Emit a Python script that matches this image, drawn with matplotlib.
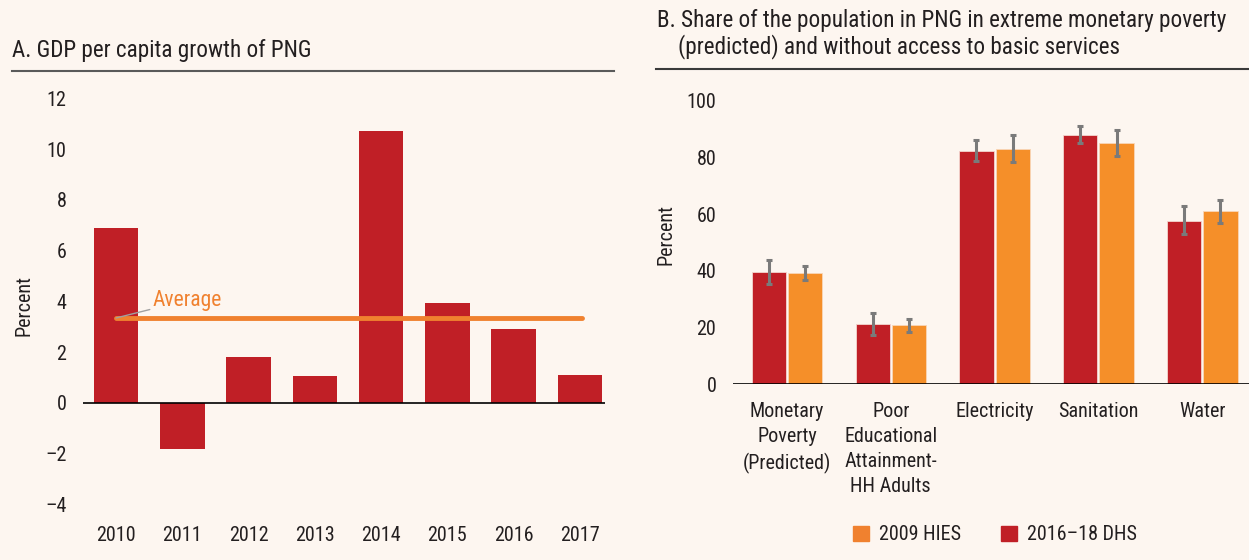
import numpy as np
import matplotlib
matplotlib.use("Agg")
import matplotlib.pyplot as plt

# panel A data
years = ["2010", "2011", "2012", "2013", "2014", "2015", "2016", "2017"]
gdp_growth = [6.9, -1.8, 1.8, 1.05, 10.7, 3.95, 2.9, 1.1]
gdp_average = 3.35

# panel B data
categories = ["Monetary\nPoverty\n(Predicted)", "Poor\nEducational\nAttainment-\nHH Adults",
              "Electricity", "Sanitation", "Water"]
dhs_values = [39.7, 21.2, 82.4, 88.1, 57.7]
dhs_low = [35.3, 17.4, 78.8, 85.0, 53.0]
dhs_high = [43.8, 25.0, 86.3, 91.2, 62.7]
hies_values = [39.3, 20.7, 83.0, 85.0, 61.0]
hies_low = [36.6, 18.3, 78.3, 80.4, 57.0]
hies_high = [41.7, 23.0, 87.8, 89.7, 65.0]

RED = "#C01F26"
ORANGE = "#F58F29"
AVG_ORANGE = "#F0812F"
GREY = "#7A7A7A"
BG = "#FDF6F0"
TXT = "#231F20"

plt.rcParams["font.family"] = ["Roboto Condensed", "Lato", "DejaVu Sans"]
plt.rcParams["text.color"] = TXT
plt.rcParams["axes.labelcolor"] = TXT
plt.rcParams["xtick.color"] = TXT
plt.rcParams["ytick.color"] = TXT

fig = plt.figure(figsize=(12.49, 5.6), dpi=100, facecolor=BG)
FS = 14.5
TFS = 16.7

# ---------- panel A ----------
axA = fig.add_axes([83 / 1249, 1 - 520 / 560, 522 / 1249, 430 / 560])
axA.set_facecolor(BG)
x = np.arange(len(years))
axA.bar(x, gdp_growth, width=0.67, color=RED, zorder=2)
axA.axhline(0, color="black", lw=1.2, zorder=3)
axA.plot([x[0], x[-1] + 0.03], [gdp_average, gdp_average], color=AVG_ORANGE,
         lw=3.5, solid_capstyle="round", zorder=4)
axA.annotate("Average", xy=(x[0], gdp_average), xytext=(0.55, 4.05),
             color=AVG_ORANGE, fontsize=FS + 1, va="center", ha="left",
             arrowprops=dict(arrowstyle="-", color="#A0A0A0", lw=1,
                             shrinkA=0, shrinkB=0), zorder=5)
axA.set_xlim(-0.5, 7.38)
axA.set_ylim(-4.61, 12.33)
axA.set_yticks(range(-4, 13, 2))
axA.set_yticklabels([str(v).replace("-", "\u2013") for v in range(-4, 13, 2)])
axA.set_xticks(x)
axA.set_xticklabels(years)
for s in axA.spines.values():
    s.set_visible(False)
axA.tick_params(length=0, labelsize=FS, pad=12)
axA.tick_params(axis="x", pad=4)
axA.set_ylabel("Percent", fontsize=FS, labelpad=8)

fig.text(12 / 1249, 1 - 50 / 560, "A. GDP per capita growth of PNG",
         fontsize=TFS, va="center", ha="left")
fig.add_artist(plt.Line2D([12 / 1249, 614 / 1249], [1 - 71 / 560, 1 - 71 / 560],
                          color="#5A5A5A", lw=1.5))

# ---------- panel B ----------
axB = fig.add_axes([733 / 1249, 1 - 384 / 560, 516 / 1249, 299 / 560])
axB.set_facecolor(BG)
xc = np.arange(len(categories))
w = 0.33
dhs_err = [np.subtract(dhs_values, dhs_low), np.subtract(dhs_high, dhs_values)]
hies_err = [np.subtract(hies_values, hies_low), np.subtract(hies_high, hies_values)]
axB.bar(xc - w / 2 - 0.01, dhs_values, width=w, color=RED, zorder=2,
        edgecolor="#F3D6CF", linewidth=0.6)
axB.bar(xc + w / 2 + 0.01, hies_values, width=w, color=ORANGE, zorder=2,
        edgecolor="#F8D6B8", linewidth=0.6)
axB.errorbar(xc - w / 2 - 0.01, dhs_values, yerr=dhs_err, fmt="none",
             ecolor=GREY, elinewidth=2.2, capsize=2, capthick=2.2, zorder=3)
axB.errorbar(xc + w / 2 + 0.01, hies_values, yerr=hies_err, fmt="none",
             ecolor=GREY, elinewidth=2.2, capsize=2, capthick=2.2, zorder=3)
axB.axhline(0, color="black", lw=1.2, zorder=4)
axB.set_xlim(-0.52, 4.45)
axB.set_ylim(0, 105.6)
axB.set_yticks(range(0, 101, 20))
axB.set_xticks(xc)
axB.set_xticklabels(categories, linespacing=1.4, va="top")
for s in axB.spines.values():
    s.set_visible(False)
axB.tick_params(length=0, labelsize=FS, pad=12)
axB.tick_params(axis="x", pad=13)
axB.set_ylabel("Percent", fontsize=FS, labelpad=8)

fig.text(657 / 1249, 1 - 34 / 560,
         "B. Share of the population in PNG in extreme monetary poverty\n"
         "    (predicted) and without access to basic services",
         fontsize=TFS, va="center", ha="left", linespacing=1.15)
fig.add_artist(plt.Line2D([656 / 1249, 1.0], [1 - 69 / 560, 1 - 69 / 560],
                          color="#3A3A3A", lw=1.5))

# legend
handles = [plt.Rectangle((0, 0), 1, 1, color=AVG_ORANGE),
           plt.Rectangle((0, 0), 1, 1, color=RED)]
fig.legend(handles, ["2009 HIES", "2016\u201318 DHS"], loc="center",
           bbox_to_anchor=(995 / 1249, 1 - 535 / 560), ncol=2, frameon=False,
           fontsize=FS, handlelength=0.8, handleheight=0.8,
           handletextpad=0.5, columnspacing=2.0)

fig.savefig("out.png", dpi=100, facecolor=BG)
